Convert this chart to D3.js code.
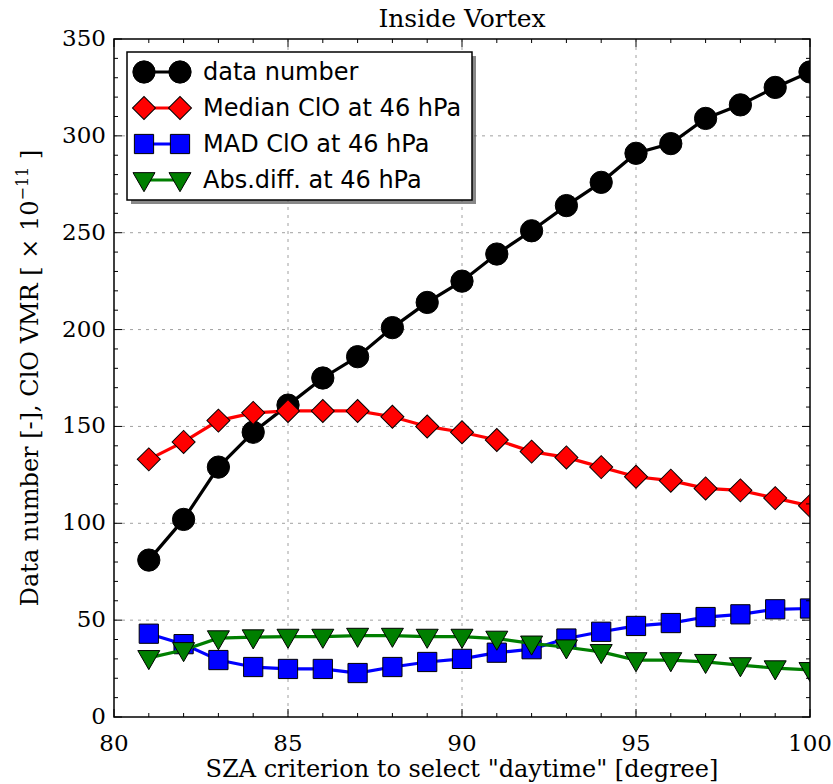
<!DOCTYPE html>
<html>
<head>
<meta charset="utf-8">
<script src="https://cdn.jsdelivr.net/npm/d3@7"></script>
<style>
body { margin: 0; background: #fff; }
</style>
</head>
<body>
<script>
// values
var sza = [81, 82, 83, 84, 85, 86, 87, 88, 89, 90, 91, 92, 93, 94, 95, 96, 97, 98, 99, 100];
var dataNumber = [81, 102, 129, 147, 161, 175, 186, 201, 214, 225, 239, 251, 264, 276, 291, 296, 309, 316, 325, 333];
var medianClO = [133, 142, 153, 157, 158, 158, 158, 155, 150, 147, 143, 137, 134, 129, 124, 122, 118, 117, 113, 109];
var madClO = [43, 37.6, 29.4, 25.8, 24.8, 24.8, 22.7, 25.8, 28.4, 30, 33.2, 35, 40.5, 44, 47, 48.5, 51.6, 53, 55.6, 56];
var absDiff = [30.5, 34.6, 40.7, 41.2, 41.5, 41.5, 42, 42, 41.5, 41.5, 40.5, 38, 36, 33.6, 29.4, 29.4, 28.5, 26.8, 25.2, 24.3];
var xTicks = [80, 85, 90, 95, 100];
var yTicks = [0, 50, 100, 150, 200, 250, 300, 350];

var series = [
  {name: "data number", values: dataNumber, color: "#000000", marker: "circle"},
  {name: "Median ClO at 46 hPa", values: medianClO, color: "#ff0000", marker: "diamond"},
  {name: "MAD ClO at 46 hPa", values: madClO, color: "#0000ff", marker: "square"},
  {name: "Abs.diff. at 46 hPa", values: absDiff, color: "#007f00", marker: "triangle"}
];

var W = 833, H = 784;
var pLeft = 114, pRight = 810, pTop = 39, pBottom = 717;

var svg = d3.select("body").append("svg")
  .attr("width", W)
  .attr("height", H);

var x = d3.scaleLinear().domain([80, 100]).range([pLeft, pRight]);
var y = d3.scaleLinear().domain([0, 350]).range([pBottom, pTop]);

var serif = "'DejaVu Serif', serif";
var sans = "'DejaVu Sans', sans-serif";

// grid
var grid = svg.append("g");
grid.selectAll("line.gx").data(xTicks.slice(1, -1)).enter().append("line")
  .attr("x1", d => x(d)).attr("x2", d => x(d))
  .attr("y1", pTop).attr("y2", pBottom)
  .attr("stroke", "#a0a0a0").attr("stroke-width", 1).attr("stroke-dasharray", "3,5");
grid.selectAll("line.gy").data(yTicks.slice(1, -1)).enter().append("line")
  .attr("x1", pLeft).attr("x2", pRight)
  .attr("y1", d => y(d)).attr("y2", d => y(d))
  .attr("stroke", "#a0a0a0").attr("stroke-width", 1).attr("stroke-dasharray", "3,5");

svg.append("clipPath").attr("id", "clip").append("rect")
  .attr("x", pLeft).attr("y", pTop).attr("width", pRight - pLeft).attr("height", pBottom - pTop);

var symbols = {
  circle: d3.symbol().type(d3.symbolCircle).size(390),
  diamond: d3.symbol().type(d3.symbolSquare).size(265),
  square: d3.symbol().type(d3.symbolSquare).size(370),
  triangle: d3.symbol().type(d3.symbolTriangle).size(210)
};
function markerTransform(m, px, py) {
  if (m === "diamond") return "translate(" + px + "," + py + ") rotate(45)";
  if (m === "triangle") return "translate(" + px + "," + (py - 1) + ") rotate(180)";
  return "translate(" + px + "," + py + ")";
}

var line = d3.line().x((d, i) => x(sza[i])).y(d => y(d));

var plot = svg.append("g").attr("clip-path", "url(#clip)");
series.forEach(function(s) {
  var g = plot.append("g");
  g.append("path")
    .attr("d", line(s.values))
    .attr("fill", "none")
    .attr("stroke", s.color)
    .attr("stroke-width", 3.2);
  g.selectAll("path.m").data(s.values).enter().append("path")
    .attr("d", symbols[s.marker]())
    .attr("transform", (d, i) => markerTransform(s.marker, x(sza[i]), y(d)))
    .attr("fill", s.color)
    .attr("stroke", "#000")
    .attr("stroke-width", 1);
});

// frame
svg.append("rect")
  .attr("x", pLeft).attr("y", pTop).attr("width", pRight - pLeft).attr("height", pBottom - pTop)
  .attr("fill", "none").attr("stroke", "#000").attr("stroke-width", 1.5);

// ticks, inward on all sides
var ticks = svg.append("g").attr("stroke", "#000").attr("stroke-width", 1);
d3.range(80, 101, 1).forEach(function(v) {
  var len = v % 5 === 0 ? 8 : 4;
  ticks.append("line").attr("x1", x(v)).attr("x2", x(v)).attr("y1", pBottom).attr("y2", pBottom - len);
  ticks.append("line").attr("x1", x(v)).attr("x2", x(v)).attr("y1", pTop).attr("y2", pTop + len);
});
d3.range(0, 351, 10).forEach(function(v) {
  var len = v % 50 === 0 ? 8 : 4;
  ticks.append("line").attr("x1", pLeft).attr("x2", pLeft + len).attr("y1", y(v)).attr("y2", y(v));
  ticks.append("line").attr("x1", pRight).attr("x2", pRight - len).attr("y1", y(v)).attr("y2", y(v));
});

svg.selectAll("text.xt").data(xTicks).enter().append("text")
  .attr("x", d => x(d)).attr("y", pBottom + 34)
  .attr("text-anchor", "middle")
  .style("font-family", serif).style("font-size", "23px")
  .text(d => d);
svg.selectAll("text.yt").data(yTicks).enter().append("text")
  .attr("x", pLeft - 8).attr("y", d => y(d) + 7)
  .attr("text-anchor", "end")
  .style("font-family", serif).style("font-size", "23px")
  .text(d => d);

// titles
svg.append("text")
  .attr("x", (pLeft + pRight) / 2).attr("y", 27)
  .attr("text-anchor", "middle")
  .style("font-family", serif).style("font-size", "25px")
  .text("Inside Vortex");
svg.append("text")
  .attr("x", (pLeft + pRight) / 2).attr("y", 777)
  .attr("text-anchor", "middle")
  .style("font-family", serif).style("font-size", "24px")
  .text('SZA criterion to select "daytime" [degree]');
var yl = svg.append("text")
  .attr("transform", "translate(38," + ((pTop + pBottom) / 2) + ") rotate(-90)")
  .attr("text-anchor", "middle")
  .style("font-family", serif).style("font-size", "24px");
yl.append("tspan").text("Data number [-], ClO VMR [ \u00d7 10");
yl.append("tspan").attr("dy", -10).style("font-size", "16px").text("\u221211");
yl.append("tspan").attr("dy", 10).text(" ]");

// legend
var lg = svg.append("g");
var lx = 127, ly = 52, lw = 345, lh = 148;
lg.append("rect").attr("x", lx + 4).attr("y", ly + 4).attr("width", lw).attr("height", lh)
  .attr("fill", "#555").attr("opacity", 0.7);
lg.append("rect").attr("x", lx).attr("y", ly).attr("width", lw).attr("height", lh)
  .attr("fill", "#fff").attr("stroke", "#000").attr("stroke-width", 1.5);
series.forEach(function(s, i) {
  var cy = ly + 20 + i * 36;
  var g = lg.append("g");
  g.append("line").attr("x1", lx + 17).attr("x2", lx + 53).attr("y1", cy).attr("y2", cy)
    .attr("stroke", s.color).attr("stroke-width", 3.2);
  [lx + 17, lx + 53].forEach(function(px) {
    g.append("path")
      .attr("d", symbols[s.marker]())
      .attr("transform", markerTransform(s.marker, px, cy))
      .attr("fill", s.color).attr("stroke", "#000").attr("stroke-width", 1);
  });
  g.append("text").attr("x", lx + 76).attr("y", cy + 8)
    .style("font-family", sans).style("font-size", "24px")
    .text(s.name);
});
</script>
</body>
</html>
